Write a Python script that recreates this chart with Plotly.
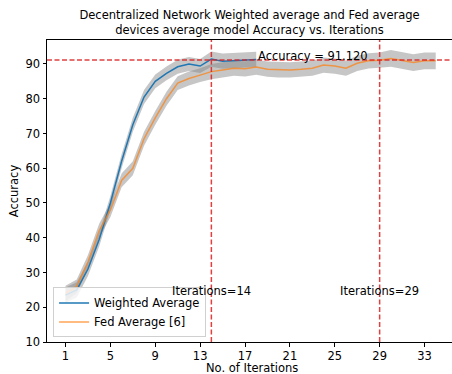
import plotly.graph_objects as go

iters_w = list(range(1, 19))
acc_w = [23.5, 25.0, 31.0, 39.5, 50.0, 62.0, 72.5, 80.5, 85.0, 87.3, 89.2, 90.0,
         89.4, 91.4, 90.8, 90.9, 91.1, 91.3]
std_w = [2.2, 2.2, 2.0, 2.0, 2.0, 2.0, 2.0, 2.0, 2.0, 2.0, 2.0, 2.0,
         2.0, 2.2, 2.2, 2.2, 2.2, 2.2]

iters_f = list(range(1, 35))
acc_f = [24.0, 26.0, 33.0, 42.0, 48.0, 56.5, 60.0, 68.5, 74.5, 80.0, 84.5, 85.8,
         86.8, 87.8, 88.3, 88.8, 88.6, 89.1, 88.5, 88.3, 88.3, 88.5, 88.8, 89.7,
         89.4, 88.8, 90.2, 90.9, 91.1, 91.6, 91.1, 90.4, 90.9, 90.9]
std_f = [2.2, 2.0, 2.0, 2.0, 2.0, 2.0, 2.0, 2.0, 2.0, 2.0, 2.0, 2.0,
         2.0, 2.2, 2.2, 2.2, 2.2, 2.2, 2.2, 2.2, 2.2, 2.2, 2.2, 2.2,
         2.2, 2.2, 2.2, 2.2, 2.2, 2.4, 2.4, 2.4, 2.4, 2.4]

best_acc = 91.12
mark_iters = [14, 29]
xticks = [1, 5, 9, 13, 17, 21, 25, 29, 33]
yticks = [10, 20, 30, 40, 50, 60, 70, 80, 90]

FONT = "DejaVu Sans"
fig = go.Figure()

def band(x, m, s):
    up = [a + b for a, b in zip(m, s)]
    lo = [a - b for a, b in zip(m, s)]
    fig.add_trace(go.Scatter(x=x + x[::-1], y=up + lo[::-1], fill="toself",
                             fillcolor="rgba(128,128,128,0.45)", line=dict(width=0),
                             hoverinfo="skip", showlegend=False, mode="lines"))

band(iters_w, acc_w, std_w)
band(iters_f, acc_f, std_f)
fig.add_trace(go.Scatter(x=iters_w, y=acc_w, mode="lines", name="Weighted Average",
                         line=dict(color="#1f77b4", width=1.5)))
fig.add_trace(go.Scatter(x=iters_f, y=acc_f, mode="lines", name="Fed Average [6]",
                         line=dict(color="rgba(255,127,14,0.7)", width=1.5)))

red = "rgba(220,30,30,0.85)"
fig.add_shape(type="line", xref="paper", x0=0, x1=1, yref="y", y0=best_acc, y1=best_acc,
              line=dict(color=red, width=1.5, dash="5px,2.5px"))
for it in mark_iters:
    fig.add_shape(type="line", xref="x", x0=it, x1=it, yref="paper", y0=0, y1=1,
                  line=dict(color=red, width=1.5, dash="5px,2.5px"))
    fig.add_annotation(x=it, y=24.7, text=f"Iterations={it}", showarrow=False,
                       xanchor="center", yanchor="middle",
                       font=dict(family=FONT, size=11.5, color="black"))

fig.add_annotation(x=18, y=best_acc, text=f"Accuracy = {best_acc:.3f}", showarrow=False,
                   xanchor="left", yanchor="bottom", yshift=-5,
                   font=dict(family=FONT, size=11.5, color="black"))

# x-axis title placed just below tick labels
fig.add_annotation(xref="paper", yref="paper", x=0.505, y=0, yanchor="top", yshift=-18,
                   text="No. of Iterations", showarrow=False, borderpad=0,
                   font=dict(family=FONT, size=11.5, color="black"))

fig.update_layout(
    width=452, height=374,
    margin=dict(l=47, r=0, t=40, b=32),
    paper_bgcolor="white", plot_bgcolor="white",
    font=dict(family=FONT, size=11.5, color="black"),
    title=dict(text="Decentralized Network Weighted average and Fed average<br>devices average model Accuracy vs. Iterations",
               x=0.5, xref="paper", xanchor="center", y=0.95, yanchor="top",
               font=dict(family=FONT, size=11.5)),
    showlegend=True,
    legend=dict(x=0.015, y=0.015, xanchor="left", yanchor="bottom",
                bgcolor="rgba(255,255,255,0.8)", bordercolor="#d0d0d0", borderwidth=1,
                font=dict(family=FONT, size=11.5), tracegroupgap=0),
    xaxis=dict(range=[-0.65, 35.45], tickmode="array", tickvals=xticks,
               showgrid=False, zeroline=False, showline=True, linecolor="black",
               linewidth=1, mirror=True, ticks="outside", ticklen=3.5,
               tickcolor="black", automargin=False),
    yaxis=dict(range=[10, 96.9], tickmode="array", tickvals=yticks,
               showgrid=False, zeroline=False, showline=True, linecolor="black",
               linewidth=1, mirror=True, ticks="outside", ticklen=3.5,
               tickcolor="black", title=dict(text="Accuracy", standoff=4,
               font=dict(family=FONT, size=11.5))),
)

fig.write_html("out.html", config={"displayModeBar": False},
               post_script="document.body.style.margin='0';document.body.style.overflow='hidden';")
